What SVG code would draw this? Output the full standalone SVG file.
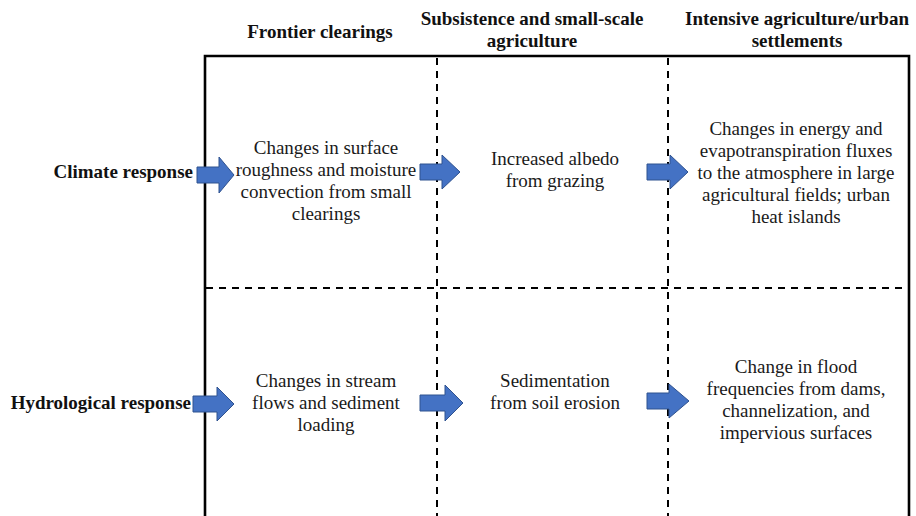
<svg xmlns="http://www.w3.org/2000/svg" width="916" height="516" viewBox="0 0 916 516">
<style>
.t{font-family:'Liberation Serif',serif;font-size:19px;fill:#1a1a1a;text-anchor:middle}
.b{font-weight:bold;fill:#111}
.frame{fill:none;stroke:#000;stroke-width:2.6}
.dash{fill:none;stroke:#000;stroke-width:2;stroke-dasharray:7 6}
.arrow{fill:#4472C4;stroke:#2F528F;stroke-width:1}
</style>
<rect width="916" height="516" fill="#fff"/>
<g id="grid">
<path class="frame" d="M205,520 V56 H909 V520"/>
<path class="dash" d="M437,58 V516"/>
<path class="dash" d="M668,58 V516"/>
<path class="dash" d="M206,288 H908"/>
</g>
<g id="headers">
<text class="t b" x="320" y="38">Frontier clearings</text>
<text class="t b" x="532" y="25">Subsistence and small-scale</text>
<text class="t b" x="532" y="47">agriculture</text>
<text class="t b" x="797" y="25">Intensive agriculture/urban</text>
<text class="t b" x="797" y="47">settlements</text>
</g>
<g id="row-climate">
<text class="t b" x="193" y="178" style="text-anchor:end">Climate response</text>
</g>
<g id="row-hydro">
<text class="t b" x="191" y="409" style="text-anchor:end">Hydrological response</text>
</g>
<g id="climate-frontier">
<text class="t" x="326" y="154">Changes in surface</text>
<text class="t" x="326" y="176">roughness and moisture</text>
<text class="t" x="326" y="198">convection from small</text>
<text class="t" x="326" y="220">clearings</text>
</g>
<g id="climate-subsistence">
<text class="t" x="555" y="165">Increased albedo</text>
<text class="t" x="555" y="187">from grazing</text>
</g>
<g id="climate-intensive">
<text class="t" x="796" y="135">Changes in energy and</text>
<text class="t" x="796" y="157">evapotranspiration fluxes</text>
<text class="t" x="796" y="179">to the atmosphere in large</text>
<text class="t" x="796" y="201">agricultural  fields; urban</text>
<text class="t" x="796" y="223">heat islands</text>
</g>
<g id="hydro-frontier">
<text class="t" x="326" y="387">Changes in stream</text>
<text class="t" x="326" y="409">flows and sediment</text>
<text class="t" x="326" y="431">loading</text>
</g>
<g id="hydro-subsistence">
<text class="t" x="555" y="387">Sedimentation</text>
<text class="t" x="555" y="409">from soil erosion</text>
</g>
<g id="hydro-intensive">
<text class="t" x="796" y="373">Change in flood</text>
<text class="t" x="796" y="395">frequencies from dams,</text>
<text class="t" x="796" y="417">channelization,  and</text>
<text class="t" x="796" y="439">impervious surfaces</text>
</g>
<g id="connectors">
<path class="arrow" d="M197,167 H219 V157 L234,175 L219,193 V183 H197 Z"/>
<path class="arrow" d="M420,164 H442 V155 L460,172 L442,189 V180 H420 Z"/>
<path class="arrow" d="M647,164 H670 V155 L688,172 L670,189 V180 H647 Z"/>
<path class="arrow" d="M193,396 H217 V387 L234,404 L217,421 V412 H193 Z"/>
<path class="arrow" d="M420,395 H445 V385 L463,403 L445,421 V411 H420 Z"/>
<path class="arrow" d="M647,393 H669 V384 L689,401 L669,418 V409 H647 Z"/>
</g>
</svg>
